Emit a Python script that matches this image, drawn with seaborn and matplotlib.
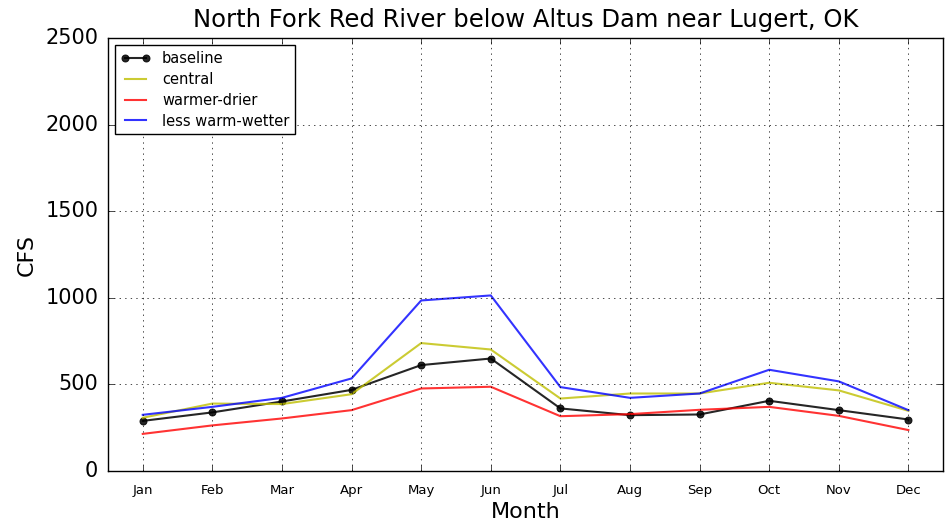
import numpy as np
import pandas as pd
import matplotlib
matplotlib.use("Agg")
import matplotlib.pyplot as plt
import seaborn as sns

# Monthly flow (CFS)
months = ["Jan", "Feb", "Mar", "Apr", "May", "Jun",
          "Jul", "Aug", "Sep", "Oct", "Nov", "Dec"]
baseline = [290, 339, 402, 469, 612, 650, 362, 323, 327, 406, 352, 298]
central = [308, 390, 387, 444, 739, 702, 419, 448, 448, 510, 466, 348]
warmer_drier = [215, 264, 304, 352, 477, 487, 317, 329, 354, 371, 319, 237]
less_warm_wetter = [325, 371, 423, 535, 985, 1014, 485, 423, 448, 585, 518, 352]

plt.style.use("classic")
plt.rcParams["font.family"] = ["DejaVu Sans"]

x = np.arange(len(months))

fig = plt.figure(figsize=(9.47, 5.27), dpi=100)
ax = fig.add_axes([0.114, 0.106, 0.882, 0.822])

sns.lineplot(x=x, y=baseline, color="k", marker="o", markersize=5,
             markeredgecolor="k", linewidth=1.5, alpha=0.85,
             label="baseline", ax=ax)
sns.lineplot(x=x, y=central, color="y", linewidth=1.5, alpha=0.8,
             label="central", ax=ax)
sns.lineplot(x=x, y=warmer_drier, color="r", linewidth=1.5, alpha=0.8,
             label="warmer-drier", ax=ax)
sns.lineplot(x=x, y=less_warm_wetter, color="b", linewidth=1.5, alpha=0.8,
             label="less warm-wetter", ax=ax)

ax.set_xlim(-0.5, 11.5)
ax.set_ylim(0, 2500)
ax.set_xticks(x)
ax.set_xticklabels(months, fontsize=9.5)
ax.set_yticks([0, 500, 1000, 1500, 2000, 2500])
ax.tick_params(axis="y", labelsize=15, pad=7)
ax.tick_params(axis="x", pad=9)
ax.grid(True)

ax.set_title("North Fork Red River below Altus Dam near Lugert, OK",
             fontsize=17.5, y=1.01)
ax.set_xlabel("Month", fontsize=16, labelpad=4)
ax.set_ylabel("CFS", fontsize=16, labelpad=6)

leg = ax.legend(loc="upper left", fontsize=10.5, labelspacing=0.4)
leg.get_frame().set_edgecolor("k")

fig.savefig("out.png", dpi=100)
